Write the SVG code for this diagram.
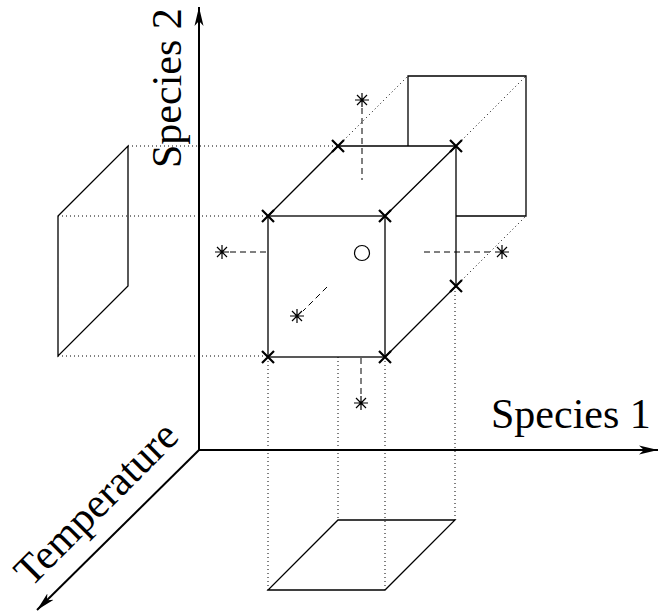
<svg xmlns="http://www.w3.org/2000/svg" width="662" height="612" viewBox="0 0 662 612">
<defs>
<style>
.axis{stroke:#000;stroke-width:2;fill:none}
.edge{stroke:#000;stroke-width:1.3;fill:none}
.dot{stroke:#000;stroke-width:1;stroke-dasharray:1 3;fill:none}
.dash{stroke:#000;stroke-width:1;stroke-dasharray:6 4;fill:none}
.lbl{font-size:42px;fill:#000}
.xm{stroke:#000;stroke-width:2.2;fill:none}
.st{stroke:#000;stroke-width:1.2;fill:none}
</style>
<marker id="ah" markerUnits="userSpaceOnUse" markerWidth="20" markerHeight="10" viewBox="-19 -5 20 10" refX="0" refY="0" orient="auto">
<path d="M0,0 L-19,-4.5 L-14,0 L-19,4.5 Z" fill="#000"/>
</marker>
<path id="xmk" d="M-6,-6 L6,6 M-6,6 L6,-6" class="xm"/>
<path id="stk" d="M-7,0 L7,0 M0,-7 L0,7 M-5,-5 L5,5 M-5,5 L5,-5" class="st"/>
</defs>
<g id="projections">
<path class="dot" d="M128,146 H338 M58,216 H268 M58,356 H268"/>
<path class="dot" d="M338,146 L408,76 M456,146 L526,76 M456,286 L526,216"/>
<path class="dot" d="M268,357 V590 M338,357 V520 M385,357 V590 M455,287 V520"/>
<path class="edge" d="M58,216 L128,146 L128,286 L58,356 Z"/>
<path class="edge" d="M268,590 H385 L455,520 H338 Z"/>
<path class="edge" d="M408,146 V76 H526 V216 H456"/>
</g>
<g id="axes">
<line class="axis" x1="199" y1="450" x2="199" y2="7" marker-end="url(#ah)"/>
<line class="axis" x1="199" y1="450" x2="658" y2="450" marker-end="url(#ah)"/>
<line class="axis" x1="199" y1="450" x2="37" y2="610" marker-end="url(#ah)"/>
</g>
<g id="labels" font-family="'Liberation Serif', 'DejaVu Serif', serif">
<text class="lbl" x="491" y="428">Species 1</text>
<text class="lbl" transform="translate(181,168) rotate(-90)">Species 2</text>
<text class="lbl" transform="translate(31,588) rotate(-45)">Temperature</text>
</g>
<g id="cube">
<rect class="edge" x="268" y="216" width="117" height="141"/>
<path class="edge" d="M268,216 L338,146 H456 V286 L385,357 M385,216 L456,146"/>
</g>
<g id="connectors">
<path class="dash" d="M362,108 V180"/>
<path class="dash" d="M230,252 H268"/>
<path class="dash" d="M424,252 H494"/>
<path class="dash" d="M327,287 L303,311"/>
<path class="dash" d="M361,358 V395"/>
</g>
<g id="corners">
<use href="#xmk" x="268" y="216"/>
<use href="#xmk" x="385" y="216"/>
<use href="#xmk" x="268" y="357"/>
<use href="#xmk" x="385" y="357"/>
<use href="#xmk" x="338" y="146"/>
<use href="#xmk" x="456" y="146"/>
<use href="#xmk" x="456" y="286"/>
</g>
<g id="samples">
<use href="#stk" x="362" y="100"/>
<use href="#stk" x="222" y="252"/>
<use href="#stk" x="502" y="252"/>
<use href="#stk" x="297" y="316"/>
<use href="#stk" x="361" y="403"/>
</g>
<g id="center">
<circle cx="362" cy="253" r="7.5" fill="none" stroke="#000" stroke-width="1.2"/>
</g>
</svg>
